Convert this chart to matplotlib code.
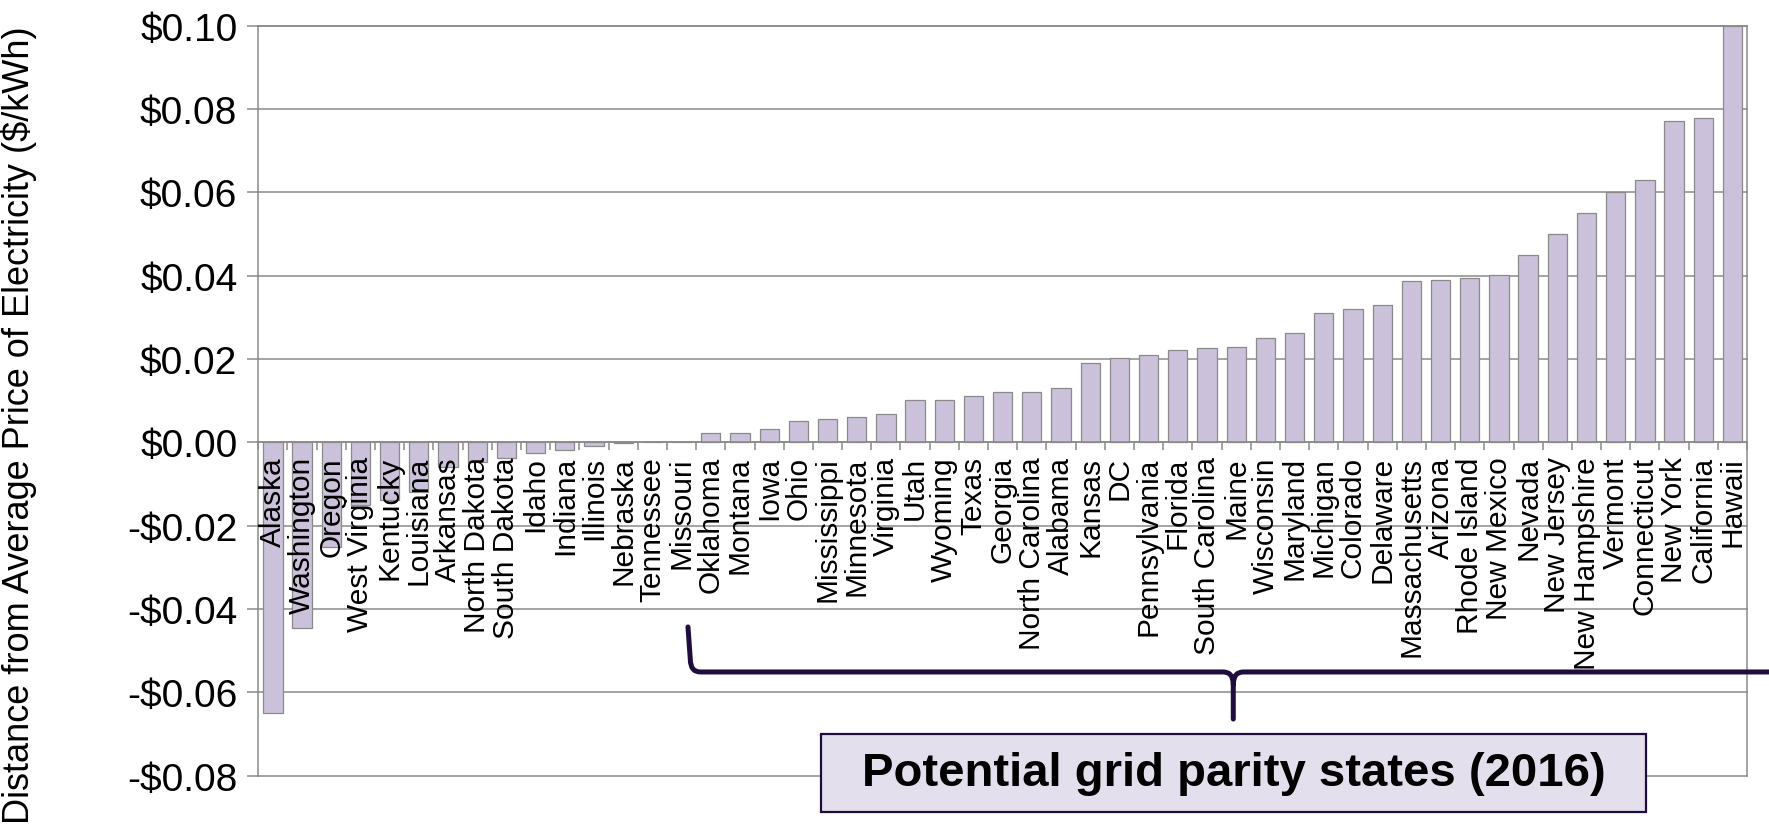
import numpy as np
import matplotlib
matplotlib.use('Agg')
import matplotlib.pyplot as plt
from matplotlib.path import Path
from matplotlib.patches import PathPatch, Rectangle
from matplotlib.ticker import FixedLocator, FuncFormatter

plt.rcParams['font.family'] = ['Liberation Sans', 'DejaVu Sans']

# distance of each state's retail price from the average ($/kWh), sorted
states = ['Alaska', 'Washington', 'Oregon', 'West Virginia', 'Kentucky', 'Louisiana',
          'Arkansas', 'North Dakota', 'South Dakota', 'Idaho', 'Indiana', 'Illinois',
          'Nebraska', 'Tennessee', 'Missouri', 'Oklahoma', 'Montana', 'Iowa', 'Ohio',
          'Mississippi', 'Minnesota', 'Virginia', 'Utah', 'Wyoming', 'Texas', 'Georgia',
          'North Carolina', 'Alabama', 'Kansas', 'DC', 'Pennsylvania', 'Florida',
          'South Carolina', 'Maine', 'Wisconsin', 'Maryland', 'Michigan', 'Colorado',
          'Delaware', 'Massachusetts', 'Arizona', 'Rhode Island', 'New Mexico', 'Nevada',
          'New Jersey', 'New Hampshire', 'Vermont', 'Connecticut', 'New York',
          'California', 'Hawaii']
distance = [-0.065, -0.0446, -0.025, -0.0150, -0.0138, -0.0118,
            -0.0058, -0.0048, -0.0038, -0.0026, -0.0018, -0.0009,
            -0.0002, 0.0, 0.0, 0.0022, 0.0022, 0.0031, 0.0051,
            0.0057, 0.0062, 0.0067, 0.0101, 0.0101, 0.0112, 0.0122,
            0.0122, 0.0131, 0.0190, 0.0202, 0.0210, 0.0222,
            0.0226, 0.0230, 0.0250, 0.0262, 0.0310, 0.0321,
            0.0330, 0.0386, 0.0390, 0.0395, 0.0401, 0.0450,
            0.0501, 0.0550, 0.0601, 0.0630, 0.0770,
            0.0778, 0.100]
yticks = np.arange(-0.08, 0.1001, 0.02)

# first and last state of the bracketed group
parity_first = 'Missouri'
parity_last = 'Hawaii'

gray = '#8a8a8a'
navy = '#1f0e3d'

fig = plt.figure(figsize=(17.69, 8.37), dpi=100)
ax = fig.add_axes([0.146, 0.072, 0.8416, 0.8962])

x = np.arange(len(states))
ax.bar(x, distance, width=0.66, color='#cbc1da', edgecolor=gray, linewidth=0.9, zorder=2)

ax.set_xlim(-0.5, len(states) - 0.5)
ax.set_ylim(-0.08, 0.10)

#axis stuff: state names go on top of the bars
ax.set_axisbelow(False)
ax.spines['bottom'].set_position(('data', 0))
for s in ax.spines.values():
    s.set_color(gray)
    s.set_linewidth(1.1)

# grid drawn by hand so it stays behind the bars
for yv in yticks:
    ax.axhline(yv, color=gray, linewidth=1.1, clip_on=False, zorder=0.5)

ax.set_yticks(yticks)
ax.yaxis.set_major_formatter(FuncFormatter(lambda v, p: ('-$%.2f' % abs(v)) if v < -1e-9 else ('$%.2f' % abs(v))))
ax.tick_params(axis='y', direction='out', length=8, width=1.1, color=gray, labelsize=28, pad=7)

ax.set_xticks(x)
ax.set_xticklabels(states, rotation=90)
ax.tick_params(axis='x', which='major', length=0, labelsize=21.5, pad=10)
ax.xaxis.set_minor_locator(FixedLocator(np.arange(-0.5, len(states), 1.0)))
ax.tick_params(axis='x', which='minor', direction='out', length=6, width=1.1, color=gray)

fig.text(0.011, 0.492, 'Distance from Average Price of Electricity ($/kWh)',
         rotation=90, ha='center', va='center', fontsize=26)

# brace over the grid parity states
x0 = states.index(parity_first) + 0.22
x1 = states.index(parity_last) + 2.0
xm = 32.9
y_top, y_bar, y_tip = -0.0443, -0.0551, -0.0664
rx, ry = 0.35, 0.0030
verts = [(x0, y_top), (x0 + 0.08, y_bar + ry), (x0 + 0.08, y_bar), (x0 + 0.08 + rx, y_bar),
         (xm - rx, y_bar), (xm, y_bar), (xm, y_bar - ry), (xm, y_tip),
         (xm, y_bar - ry), (xm, y_bar), (xm + rx, y_bar), (x1, y_bar)]
codes = [Path.MOVETO, Path.LINETO, Path.CURVE3, Path.CURVE3,
         Path.LINETO, Path.CURVE3, Path.CURVE3, Path.LINETO,
         Path.MOVETO, Path.CURVE3, Path.CURVE3, Path.LINETO]
ax.add_patch(PathPatch(Path(verts, codes), facecolor='none', edgecolor=navy,
                       linewidth=3.6, capstyle='round', joinstyle='round',
                       clip_on=False, zorder=4))

box_left, box_right = 18.78, 47.04
box_bot, box_top = -0.0887, -0.0700
ax.add_patch(Rectangle((box_left, box_bot), box_right - box_left, box_top - box_bot,
                       facecolor='#e4dfec', edgecolor=navy, linewidth=1.6,
                       clip_on=False, zorder=4))
ax.text((box_left + box_right) / 2, (box_bot + box_top) / 2, 'Potential grid parity states (2016)',
        ha='center', va='center', fontsize=34, fontweight='bold', zorder=5)

fig.savefig('out.png', dpi=100)
